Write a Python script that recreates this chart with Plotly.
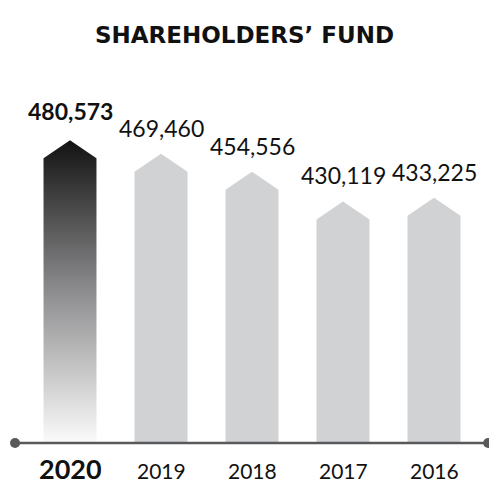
import plotly.graph_objects as go

# data
years = ['2020', '2019', '2018', '2017', '2016']
fund = [480573, 469460, 454556, 430119, 433225]
title = 'SHAREHOLDERS\u2019 FUND'

# the bars in the original are not drawn from zero, so the axis starts at a base value
base = 230800
px_per_unit = 0.0012118  # pixels per unit of value
cap = 18 / px_per_unit   # height of the pointed top, in data units
half_w = 0.291           # half of the bar width, in category units

grey = '#d1d2d4'
axis_col = '#58595b'
font = 'Lato'

fig = go.Figure()

for i, (yr, v) in enumerate(zip(years, fund)):
    xs = [i - half_w, i - half_w, i, i + half_w, i + half_w, i - half_w]
    ys = [base, v - cap, v, v - cap, base, base]
    if i == 0:
        # highlighted year gets a dark-to-white gradient
        fig.add_trace(go.Scatter(
            x=xs, y=ys, mode='lines', fill='toself', line=dict(width=0),
            fillgradient=dict(type='vertical',
                              colorscale=[[0, '#fbfbfb'], [0.5, '#8d8d8f'], [1, '#121212']]),
            hoverinfo='skip', showlegend=False))
    else:
        fig.add_trace(go.Scatter(
            x=xs, y=ys, mode='lines', fill='toself', fillcolor=grey,
            line=dict(width=0), hoverinfo='skip', showlegend=False))

    # value above the bar
    fig.add_annotation(x=i, y=v, xref='x', yref='y', yanchor='bottom',
                       yshift=13 if i == 0 else 10,
                       text='<b>{:,}</b>'.format(v) if i == 0 else '{:,}'.format(v),
                       showarrow=False,
                       font=dict(family=font, size=23, color='#111'))
    # year below the axis
    fig.add_annotation(x=i, y=base, xref='x', yref='y', yanchor='middle',
                       yshift=-25 if i == 0 else -27, height=28,
                       text='<b>' + yr + '</b>' if i == 0 else yr,
                       showarrow=False,
                       font=dict(family=font, size=27 if i == 0 else 21, color='#111'))

# axis line with round ends
fig.add_trace(go.Scatter(
    x=[-0.604, 4.595], y=[base, base], mode='lines+markers',
    line=dict(color=axis_col, width=2.5),
    marker=dict(color=axis_col, size=10),
    cliponaxis=False, hoverinfo='skip', showlegend=False))

fig.update_xaxes(range=[-70 / 91, (489 - 70) / 91], visible=False)
fig.update_yaxes(range=[base - 3 / px_per_unit, base + 443 / px_per_unit], visible=False)

fig.update_layout(
    width=489, height=483,
    margin=dict(l=0, r=0, t=0, b=37),
    paper_bgcolor='white', plot_bgcolor='white',
    title=dict(text='<b>' + title + '</b>', x=0.5, xanchor='center',
               yref='container', y=1 - 35 / 483, yanchor='middle',
               font=dict(family='DejaVu Sans', size=23, color='#111')),
)

fig.write_html('out.html', config={'displayModeBar': False},
               post_script="document.body.style.margin='0';")
